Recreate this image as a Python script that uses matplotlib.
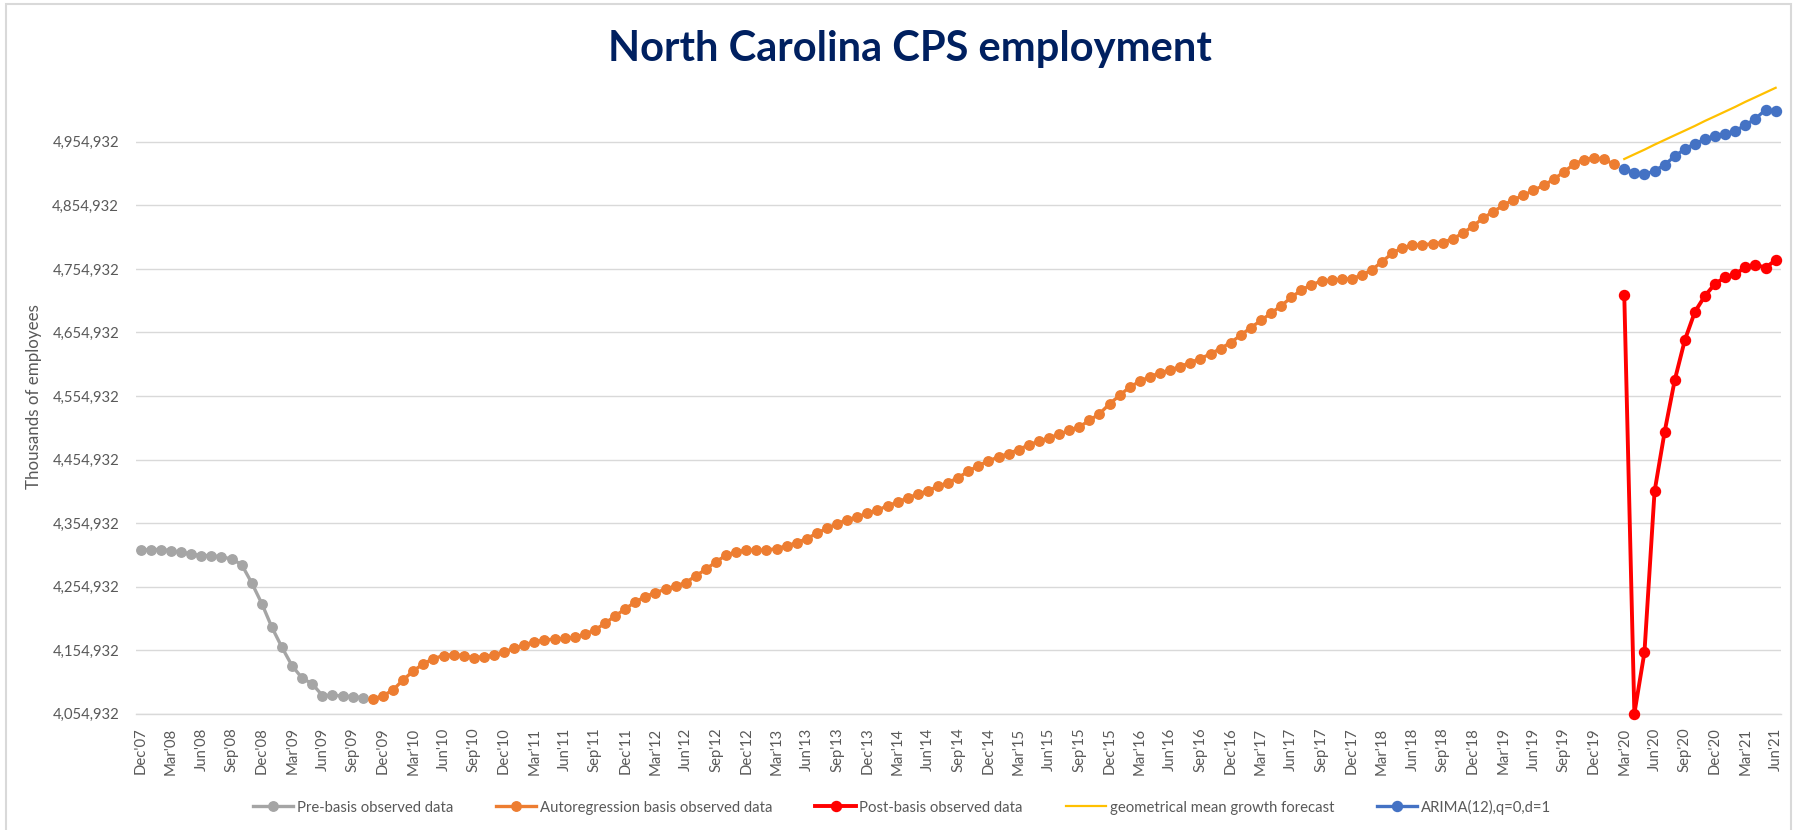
import matplotlib
matplotlib.use("Agg")
import matplotlib.pyplot as plt
from matplotlib.lines import Line2D
from matplotlib.patches import Rectangle
from matplotlib.ticker import FuncFormatter

plt.rcParams['font.family'] = ['Lato', 'DejaVu Sans']

# categories: Dec'07 .. Jun'21, monthly
mon = ['Jan', 'Feb', 'Mar', 'Apr', 'May', 'Jun', 'Jul', 'Aug', 'Sep', 'Oct', 'Nov', 'Dec']
months = []
for k in range(163):
    m = (11 + k) % 12
    yr = 2007 + (11 + k) // 12
    months.append(f"{mon[m]}'{yr % 100:02d}")

# Pre-basis observed data (Dec'07 - Oct'09)
pre_basis = [4312100, 4313200, 4313200, 4311600, 4309000, 4306300, 4303700, 4303700,
             4301600, 4298400, 4289500, 4260600, 4228000, 4190600, 4159000, 4130100,
             4110700, 4101700, 4083300, 4083900, 4082800, 4081700, 4080200]

# Autoregression basis observed data (Nov'09 - Feb'20)
autoreg = [4078100, 4082800, 4092300, 4108000, 4122000, 4133300, 4141500, 4146200,
           4147800, 4146200, 4142800, 4144600, 4147500, 4152200, 4157800, 4163000,
           4168000, 4170900, 4172200, 4173200, 4175100, 4179800, 4186700, 4197000,
           4208600, 4219600, 4230700, 4239100, 4245400, 4250700, 4255900, 4261200,
           4271700, 4282200, 4293800, 4304300, 4309600, 4312200, 4312200, 4312200,
           4314800, 4319000, 4324000, 4330200, 4339100, 4346500, 4353900, 4360200,
           4364400, 4370700, 4374900, 4382300, 4387500, 4394900, 4400100, 4405900,
           4412800, 4418500, 4426400, 4436400, 4445400, 4452700, 4459000, 4464300,
           4470600, 4478000, 4483800, 4489000, 4494800, 4500600, 4506400, 4516400,
           4527000, 4542500, 4555900, 4569100, 4578000, 4585400, 4591200, 4595900,
           4601200, 4607500, 4613800, 4621200, 4629600, 4639100, 4650600, 4662700,
           4673800, 4685300, 4696900, 4710100, 4721600, 4730100, 4735800, 4737400,
           4738500, 4739500, 4745300, 4753700, 4766400, 4779500, 4788400, 4792100,
           4793000, 4794500, 4796500, 4802300, 4811200, 4822300, 4834900, 4844900,
           4854900, 4863900, 4870700, 4878600, 4886500, 4895900, 4907500, 4919600,
           4927000, 4930100, 4927500, 4919600]

# Post-basis observed data (Mar'20 - Jun'21)
post_basis = [4713500, 4054932, 4151600, 4404600, 4498600, 4579900, 4642900, 4687500,
              4712700, 4731600, 4741600, 4746300, 4757900, 4761600, 4756800, 4768900]

# geometrical mean growth forecast (Mar'20 - Jun'21)
geo_forecast = [4928000, 4935400, 4942700, 4950600, 4958000, 4965400, 4972700, 4980100,
                4988000, 4995300, 5002700, 5010100, 5018000, 5025300, 5032700, 5040100]

# ARIMA(12),q=0,d=1 (Mar'20 - Jun'21)
arima = [4912800, 4905900, 4903800, 4909100, 4919100, 4932200, 4943800, 4952200,
         4959000, 4963800, 4966900, 4972700, 4981100, 4991700, 5005300, 5003800]

yticks = list(range(4054932, 4954933, 100000))

W, H = 1793, 830
fig = plt.figure(figsize=(W / 100, H / 100), dpi=100)
ax = fig.add_axes([135.7 / W, 1 - 713.6 / H, (1780.7 - 135.7) / W, (713.6 - 81.5) / H])

x_pre = list(range(0, len(pre_basis)))
x_auto = list(range(len(pre_basis), len(pre_basis) + len(autoreg)))
start_fc = months.index("Mar'20")
x_fc = list(range(start_fc, start_fc + len(post_basis)))

ax.plot(x_pre, pre_basis, color='#A5A5A5', lw=2.4, marker='o', ms=6.8, clip_on=False, zorder=3)
ax.plot(x_auto, autoreg, color='#ED7D31', lw=2.4, marker='o', ms=6.8, clip_on=False, zorder=3)
ax.plot(x_fc, post_basis, color='#FF0000', lw=2.8, marker='o', ms=7.2, clip_on=False, zorder=4)
ax.plot(x_fc, geo_forecast, color='#FFC000', lw=1.6, clip_on=False, zorder=3)
ax.plot(x_fc, arima, color='#4472C4', lw=2.4, marker='o', ms=7.2, clip_on=False, zorder=3)

ax.set_xlim(-0.5, len(months) - 0.5)
ax.set_ylim(4054932, 5050000)
ax.set_yticks(yticks)
ax.yaxis.set_major_formatter(FuncFormatter(lambda v, p: f"{int(round(v)):,}"))
ax.set_xticks(range(0, len(months), 3))
ax.set_xticklabels(months[::3], rotation=90, va='top', ha='center')
ax.tick_params(axis='both', length=0, labelsize=10.7, labelcolor='#595959')
ax.tick_params(axis='y', pad=12)
ax.tick_params(axis='x', pad=10)
ax.grid(axis='y', color='#D9D9D9', lw=1.0)
ax.set_axisbelow(True)
for s in ['top', 'right', 'left']:
    ax.spines[s].set_visible(False)
ax.spines['bottom'].set_color('#D9D9D9')
ax.spines['bottom'].set_linewidth(1.0)

fig.text(910 / W, 1 - 49 / H, 'North Carolina CPS employment', ha='center', va='center',
         fontsize=30, fontweight='bold', color='#002060')
fig.text(34 / W, 1 - 397 / H, 'Thousands of employees', rotation=90, ha='center',
         va='center', fontsize=12.2, color='#595959')

handles = [
    Line2D([], [], color='#A5A5A5', lw=2.4, marker='o', ms=6.8),
    Line2D([], [], color='#ED7D31', lw=2.4, marker='o', ms=6.8),
    Line2D([], [], color='#FF0000', lw=2.8, marker='o', ms=7.2),
    Line2D([], [], color='#FFC000', lw=1.6),
    Line2D([], [], color='#4472C4', lw=2.4, marker='o', ms=7.2),
]
names = ['Pre-basis observed data', 'Autoregression basis observed data',
         'Post-basis observed data', 'geometrical mean growth forecast',
         'ARIMA(12),q=0,d=1']
leg = fig.legend(handles, names, loc='center', bbox_to_anchor=(902 / W, 1 - 807 / H),
                 ncol=5, frameon=False, fontsize=10.7, handlelength=2.7,
                 handletextpad=0.25, columnspacing=2.9, numpoints=1)
for t in leg.get_texts():
    t.set_color('#595959')

fig.add_artist(Rectangle((6 / W, -0.1), (1791 - 6) / W, 1.1 - 4 / H, transform=fig.transFigure,
                         fill=False, edgecolor='#D9D9D9', lw=1.5))

fig.savefig('out.png', dpi=100)
